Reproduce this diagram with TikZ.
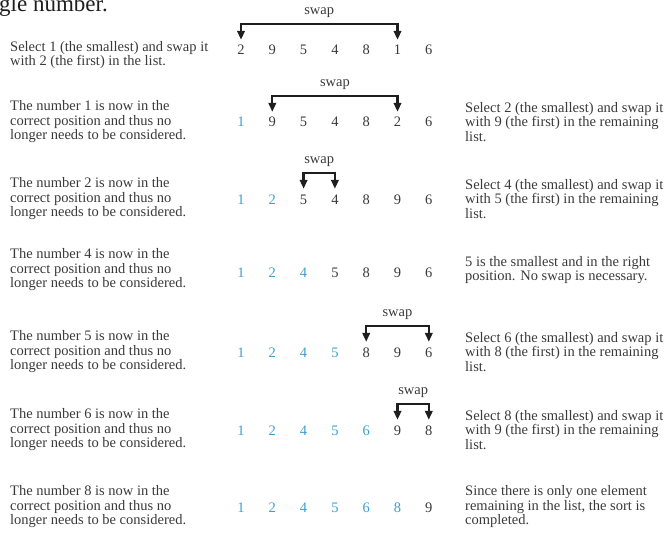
\documentclass[tikz,border=0pt]{standalone}
\usepackage{fontspec}
\setmainfont{Liberation Serif}
\usetikzlibrary{arrows.meta}
\definecolor{txt}{HTML}{3A3A3A}
\definecolor{sorted}{HTML}{3A9FD2}
\definecolor{arr}{HTML}{1E1E1E}
\begin{document}
\begin{tikzpicture}[x=1pt,y=-1pt,
  desc/.style={align=left, anchor=west, inner sep=0pt, text=txt, font=\fontsize{14.5}{14.5}\selectfont},
  num/.style={inner sep=0pt, text height=10pt, text depth=0pt, font=\fontsize{14.5}{14.5}\selectfont},
  swp/.style={draw=arr, line width=2.3pt, {Triangle[length=9pt,width=7.5pt]}-{Triangle[length=9pt,width=7.5pt]}},
  swaplabel/.style={anchor=base, yshift=9pt, inner sep=0pt, text=txt, font=\fontsize{14.5}{14.5}\selectfont}]
\useasboundingbox (0,0) rectangle (670,535);
\node[anchor=base west, inner sep=0pt, text=arr, font=\fontsize{23}{23}\selectfont] (top) at (-1,11.5) {gle number.};
\foreach \r/\y/\l/\k in {1/50/{2,9,5,4,8,1,6}/0, 2/122/{1,9,5,4,8,2,6}/1, 3/199/{1,2,5,4,8,9,6}/2, 4/272/{1,2,4,5,8,9,6}/3, 5/352/{1,2,4,5,8,9,6}/4, 6/430/{1,2,4,5,6,9,8}/5, 7/507/{1,2,4,5,6,8,9}/6}{
  \foreach \v [count=\c] in \l {
    \ifnum\c>\k \def\col{txt}\else\def\col{sorted}\fi
    \node[num, text=\col] (n\r-\c) at ({241+31.3*(\c-1)},\y) {\v};
  }
}
% left descriptions
\node[desc] (l1) at (10,55) {Select 1 (the smallest) and swap it\\with 2 (the first) in the list.};
\foreach \r/\y/\d in {2/122/1, 3/199/2, 4/270/4, 5/352/5, 6/430/6, 7/507/8}{
  \node[desc] (l\r) at (10,\y) {The number \d{} is now in the\\correct position and thus no\\longer needs to be considered.};
}
% right descriptions
\node[desc] (r2) at (465,122) {Select 2 (the smallest) and swap it\\with 9 (the first) in the remaining\\list.};
\node[desc] (r3) at (465,199) {Select 4 (the smallest) and swap it\\with 5 (the first) in the remaining\\list.};
\node[desc] (r4) at (465,270) {5 is the smallest and in the right\\position. No swap is necessary.};
\node[desc] (r5) at (465,352) {Select 6 (the smallest) and swap it\\with 8 (the first) in the remaining\\list.};
\node[desc] (r6) at (465,430) {Select 8 (the smallest) and swap it\\with 9 (the first) in the remaining\\list.};
\node[desc] (r7) at (465,507) {Since there is only one element\\remaining in the list, the sort is\\completed.};
% swaps
\foreach \r/\a/\b in {1/1/6, 2/2/6, 3/3/4, 5/5/7, 6/6/7}{
  \draw[swp] ([yshift=5pt]n\r-\a.north) -- ([yshift=21pt]n\r-\a.north)
    -- node[swaplabel] (s\r) {swap} ([yshift=21pt]n\r-\b.north) -- ([yshift=5pt]n\r-\b.north);
}
\end{tikzpicture}
\end{document}
